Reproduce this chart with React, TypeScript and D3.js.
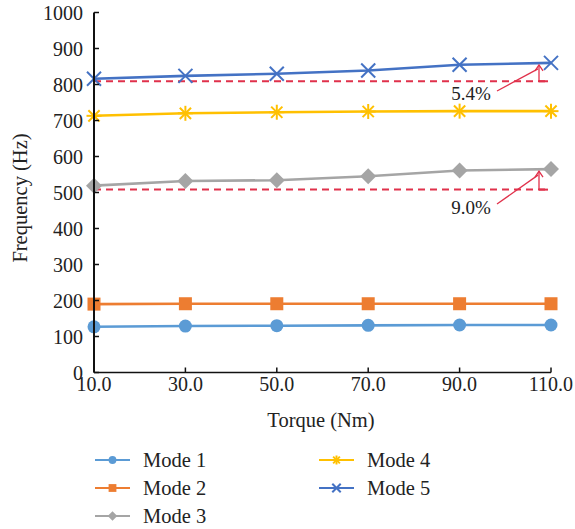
import React from "react";
import * as d3 from "d3";

const torque = [10, 30, 50, 70, 90, 110];
const xTicks = ["10.0", "30.0", "50.0", "70.0", "90.0", "110.0"];
const yTicks = [0, 100, 200, 300, 400, 500, 600, 700, 800, 900, 1000];
const mode1 = [127, 129, 130, 131, 132, 132];
const mode2 = [190, 191, 191, 191, 191, 191];
const mode3 = [519, 532, 534, 545, 561, 565];
const mode4 = [713, 720, 723, 725, 726, 726];
const mode5 = [816, 824, 830, 839, 855, 860];
const seriesNames = ["Mode 1", "Mode 2", "Mode 3", "Mode 4", "Mode 5"];
const refLines = [809, 508];
const refLabels = ["5.4%", "9.0%"];
const refTargets = [860, 565];

const colors = ["#5B9BD5", "#ED7D31", "#A5A5A5", "#FFC000", "#4472C4"];
const markers = ["circle", "square", "diamond", "star", "cross"];
const FONT = "'Liberation Serif', 'DejaVu Serif', serif";

function Marker({ type, x, y, color, s = 1 }: any) {
  if (type === "circle") return <circle cx={x} cy={y} r={6.5 * s} fill={color} />;
  if (type === "square") return <rect x={x - 6.5 * s} y={y - 6.5 * s} width={13 * s} height={13 * s} fill={color} />;
  if (type === "diamond") {
    const r = 8 * s;
    return <path d={`M${x},${y - r}L${x + r},${y}L${x},${y + r}L${x - r},${y}Z`} fill={color} />;
  }
  if (type === "star") {
    const r = 7.5 * s;
    const d = r * 0.75;
    return (
      <g stroke={color} strokeWidth={2}>
        <line x1={x - r} y1={y} x2={x + r} y2={y} />
        <line x1={x} y1={y - r} x2={x} y2={y + r} />
        <line x1={x - d} y1={y - d} x2={x + d} y2={y + d} />
        <line x1={x - d} y1={y + d} x2={x + d} y2={y - d} />
      </g>
    );
  }
  const r = 7 * s;
  return (
    <g stroke={color} strokeWidth={2}>
      <line x1={x - r} y1={y - r} x2={x + r} y2={y + r} />
      <line x1={x - r} y1={y + r} x2={x + r} y2={y - r} />
    </g>
  );
}

export default function App() {
  const W = 575, H = 529;
  const x = d3.scaleLinear().domain([10, 110]).range([94, 551]);
  const y = d3.scaleLinear().domain([0, 1000]).range([372.5, 12.5]);
  const data = [mode1, mode2, mode3, mode4, mode5];
  const line = d3.line<number>().x((_, i) => x(torque[i])).y((d) => y(d));

  const annX = 539;
  const labelPos = [
    { tx: 471, ty: 100, lx: 497, ly: 91 },
    { tx: 471, ty: 214, lx: 497, ly: 204 },
  ];

  return (
    <svg width={W} height={H} style={{ position: "absolute", left: 0, top: 0 }} fontFamily={FONT}>
      <rect width={W} height={H} fill="#fff" />
      {refLines.map((v, i) => (
        <line key={i} x1={x(10)} x2={x(110) - 3} y1={y(v)} y2={y(v)} stroke="#E0314B" strokeWidth={2} strokeDasharray="7,5" />
      ))}
      {data.map((s, k) => (
        <g key={k}>
          <path d={line(s) || ""} fill="none" stroke={colors[k]} strokeWidth={2.6} />
          {s.map((v, i) => (
            <Marker key={i} type={markers[k]} x={x(torque[i])} y={y(v)} color={colors[k]} />
          ))}
        </g>
      ))}
      {refLines.map((v, i) => {
        const y0 = y(v);
        const y1 = y(refTargets[i]) + 2;
        const p = labelPos[i];
        return (
          <g key={i} stroke="#E0314B" strokeWidth={1.3} fill="none">
            <line x1={annX} x2={annX} y1={y0} y2={y1} />
            <path d={`M${annX - 4},${y1 + 6}L${annX},${y1}L${annX + 4},${y1 + 6}`} />
            <line x1={annX} x2={548} y1={y0} y2={y0} strokeWidth={2} />
            <line x1={p.lx} y1={p.ly} x2={annX - 1} y2={y1 + 4} />
          </g>
        );
      })}
      {refLabels.map((t, i) => (
        <text key={i} x={labelPos[i].tx} y={labelPos[i].ty} textAnchor="middle" fontSize={19} fill="#222">{t}</text>
      ))}
      <line x1={94} x2={94} y1={y(1000)} y2={y(0)} stroke="#111" strokeWidth={2} />
      <line x1={94} x2={x(110)} y1={y(0)} y2={y(0)} stroke="#111" strokeWidth={1.5} />
      {yTicks.map((t) => (
        <g key={t}>
          <line x1={94} x2={99} y1={y(t)} y2={y(t)} stroke="#111" strokeWidth={1.5} />
          <text x={83} y={y(t)} dy="0.35em" textAnchor="end" fontSize={20} fill="#222">{t}</text>
        </g>
      ))}
      {torque.map((t, i) => (
        <g key={t}>
          <line x1={x(t)} x2={x(t)} y1={y(0)} y2={y(0) - 5} stroke="#111" strokeWidth={1.5} />
          <text x={x(t)} y={391} textAnchor="middle" fontSize={20} fill="#222">{xTicks[i]}</text>
        </g>
      ))}
      <text x={321} y={427} textAnchor="middle" fontSize={20.5} fill="#222">Torque (Nm)</text>
      <text transform={`translate(27,${198}) rotate(-90)`} textAnchor="middle" fontSize={20.5} fill="#222">Frequency (Hz)</text>
      {seriesNames.map((n, k) => {
        const col = k < 3 ? 0 : 1;
        const row = k < 3 ? k : k - 3;
        const lx = col === 0 ? 95 : 319;
        const ly = 460 + row * 28;
        return (
          <g key={n}>
            <line x1={lx} x2={lx + 35} y1={ly} y2={ly} stroke={colors[k]} strokeWidth={2} />
            <Marker type={markers[k]} x={lx + 17.5} y={ly} color={colors[k]} s={0.6} />
            <text x={lx + 48} y={ly} dy="0.35em" fontSize={20.5} fill="#222">{n}</text>
          </g>
        );
      })}
    </svg>
  );
}
